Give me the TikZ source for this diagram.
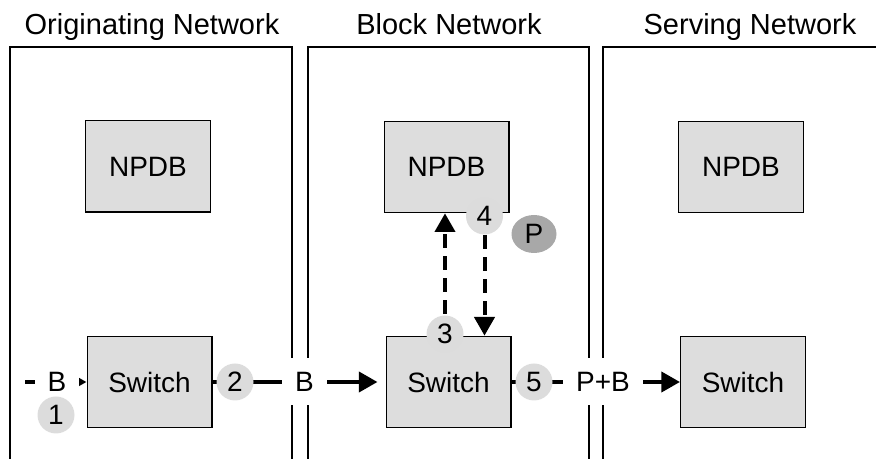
\documentclass[tikz,border=0pt]{standalone}
\usepackage{fontspec}
\setmainfont{Liberation Sans}
\usetikzlibrary{arrows.meta,shapes.geometric}
\definecolor{boxgray}{RGB}{221,221,221}
\definecolor{numgray}{RGB}{220,220,220}
\definecolor{pgray}{RGB}{168,168,168}

\begin{document}
\begin{tikzpicture}[x=0.75pt,y=-0.75pt]
\tikzstyle{every node}+=[inner sep=0pt,font=\fontsize{21}{25}\selectfont]
\tikzstyle{net}=[draw=black,line width=0.8pt]
\tikzstyle{title}=[anchor=base,font=\fontsize{21.75}{26}\selectfont]
\tikzstyle{box}=[draw=black,fill=boxgray,line width=1pt,minimum width=93.5pt,minimum height=68.5pt]
\tikzstyle{num}=[circle,fill=numgray,minimum size=27.75pt]
\tikzstyle{lbl}=[fill=white,inner xsep=9.75pt,minimum height=35.25pt]
\tikzstyle{flow}=[line width=3pt,-{Triangle[length=14pt,width=15pt]}]
\tikzstyle{query}=[flow,dash pattern=on 10pt off 6.5pt]
\clip (0,0) rectangle (876,459);
\draw [net] (10,47) rectangle (292,480);
\draw [net] (308,47) rectangle (589,480);
\draw [net] (603,47) rectangle (900,480);
\node [title] (tOrig) at (152,35) {Originating Network};
\node [title] (tBlock) at (449,35) {Block Network};
\node [title] (tServ) at (750,35) {Serving Network};
\node [box] (npdbO) at (148,166.5) {NPDB};
\node [box] (npdbB) at (446.5,167) {NPDB};
\node [box] (npdbS) at (741,167) {NPDB};
\node [box] (swO) at (149.5,382) {Switch};
\node [box] (swB) at (448.5,382) {Switch};
\node [box] (swS) at (743,382) {Switch};
\coordinate (in) at (25,382);
\coordinate (p3) at (445,334);
\coordinate (p4) at (484.5,216);
\draw [flow] (in) -- (swO.west);
\draw [flow,shorten >=6pt] (swO.east) -- (swB.west);
\draw [flow] (swB.east) -- (swS.west);
\draw [query] (swB.north -| p3) -- (npdbB.south -| p3);
\draw [query] (npdbB.south -| p4) -- (swB.north -| p4);
\node [lbl] (bIn) at (57,382) {B};
\node [lbl] (bMid) at (304.5,382) {B};
\node [lbl] (pb) at (603,382) {P+B};
\node [num] (n1) at (56,415) {1};
\node [num] (n2) at (235,382) {2};
\node [num] (n3) at (p3) {3};
\node [num] (n4) at (p4) {4};
\node [num] (n5) at (534,382) {5};
\node [ellipse,fill=pgray,minimum width=33.75pt,minimum height=28.5pt] (pkt) at (534,234) {P};
\end{tikzpicture}
\end{document}
